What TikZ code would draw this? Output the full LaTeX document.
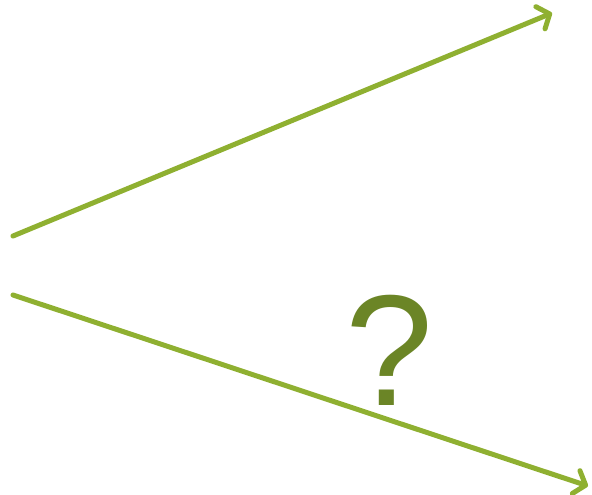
\documentclass[tikz,border=0pt]{standalone}
\usepackage{fontspec}
\setmainfont{Liberation Sans}
\usetikzlibrary{arrows.meta}
\definecolor{linegreen}{HTML}{8FB031}
\definecolor{markgreen}{HTML}{6B8526}

\begin{document}
\begin{tikzpicture}[x=1pt,y=-1pt,
  arr/.style={draw=linegreen,line width=5pt,line cap=round,-{Straight Barb[length=10pt,width=24pt,round]}},
  qmark/.style={text=markgreen,inner sep=0pt,font=\fontsize{158}{158}\selectfont}]
\useasboundingbox (0,0) rectangle (592,495);
\coordinate (up0) at (13,236);
\coordinate (up1) at (552,13);
\coordinate (lo0) at (13,295);
\coordinate (lo1) at (588,486);
\draw[arr] (up0) -- (up1);
\draw[arr] (lo0) -- (lo1);
\node[qmark,anchor=base] (qm) at (389,405) {?};
\end{tikzpicture}
\end{document}
